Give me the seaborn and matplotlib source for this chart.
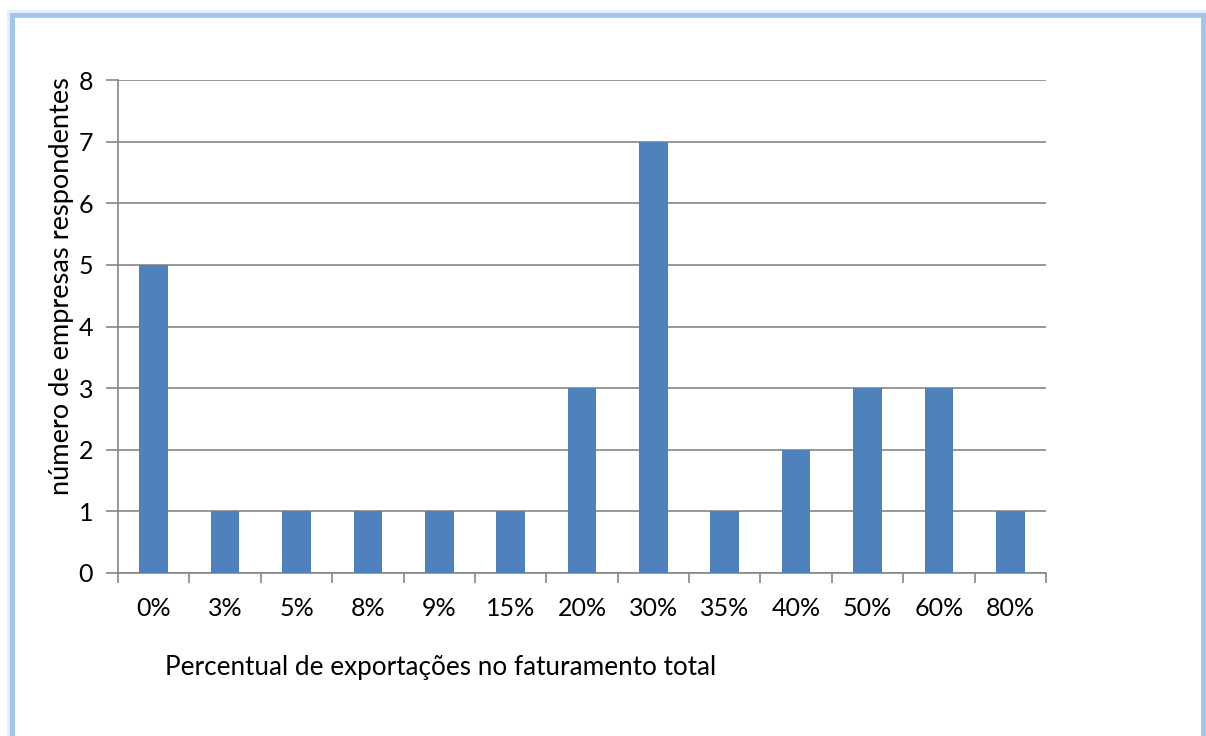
import matplotlib
matplotlib.use("Agg")
import matplotlib.pyplot as plt
import seaborn as sns
import pandas as pd
from matplotlib.patches import Rectangle

categories = ["0%", "3%", "5%", "8%", "9%", "15%", "20%", "30%", "35%", "40%", "50%", "60%", "80%"]
counts = [5, 1, 1, 1, 1, 1, 3, 7, 1, 2, 3, 3, 1]
y_ticks = [0, 1, 2, 3, 4, 5, 6, 7, 8]

sns.set_theme(style="white")
plt.rcParams['font.family'] = ['Lato', 'DejaVu Sans']

df = pd.DataFrame({"cat": categories, "n": counts})

W, H = 1206, 736
fig = plt.figure(figsize=(W / 100, H / 100), dpi=100)
fig.patch.set_facecolor("white")

ax = fig.add_axes([118 / W, 1 - 573 / H, (1046 - 118) / W, (573 - 80) / H])
sns.barplot(data=df, x="cat", y="n", color="#4F81BD", width=0.4, saturation=1, ax=ax,
            zorder=3, linewidth=0, edgecolor="none")

ax.set_ylim(0, 8)
ax.set_xlim(-0.5, len(categories) - 0.5)
ax.set_yticks(y_ticks)
ax.yaxis.grid(True, color="#868686", linewidth=1.2, zorder=0)
ax.set_axisbelow(True)
for s in ["top", "right"]:
    ax.spines[s].set_visible(False)
for s in ["left", "bottom"]:
    ax.spines[s].set_color("#868686")
    ax.spines[s].set_linewidth(1.2)

ax.tick_params(axis="y", which="major", direction="out", length=9, width=1.2, color="#868686",
               labelsize=18, pad=9, left=True)
ax.set_xticks(range(len(categories)))
ax.set_xticklabels(categories)
ax.tick_params(axis="x", which="major", length=0, labelsize=18, pad=17)
ax.set_xticks([i - 0.5 for i in range(len(categories) + 1)], minor=True)
ax.tick_params(axis="x", which="minor", direction="out", length=7, width=1.2, color="#868686", bottom=True)

ax.set_xlabel("")
ax.set_ylabel("")
for lab in ax.get_xticklabels() + ax.get_yticklabels():
    lab.set_color("black")

fig.text(165 / W, 1 - 667 / H, "Percentual de exportações no faturamento total",
         fontsize=18.8, ha="left", va="center", color="black")
fig.text(62 / W, 1 - 286 / H, "número de empresas respondentes",
         fontsize=19.6, rotation=90, ha="center", va="center", color="black")

# frame with soft blue shadow
for off, col, lw in [(2, "#C9DDF7", 2.0), (4, "#E3EEFB", 2.0)]:
    fig.add_artist(Rectangle((12 / W - off / W, -0.1), (1203 - 12 + 2 * off) / W, (1 - 15 / H + off / H) + 0.1,
                             transform=fig.transFigure, fill=False, edgecolor=col, linewidth=lw, zorder=0))
fig.add_artist(Rectangle((12 / W, -0.1), (1203 - 12) / W, (1 - 15 / H) + 0.1,
                         transform=fig.transFigure, fill=False, edgecolor="#A3C4EE", linewidth=3.5, zorder=1))

fig.savefig("out.png", dpi=100, facecolor="white")
